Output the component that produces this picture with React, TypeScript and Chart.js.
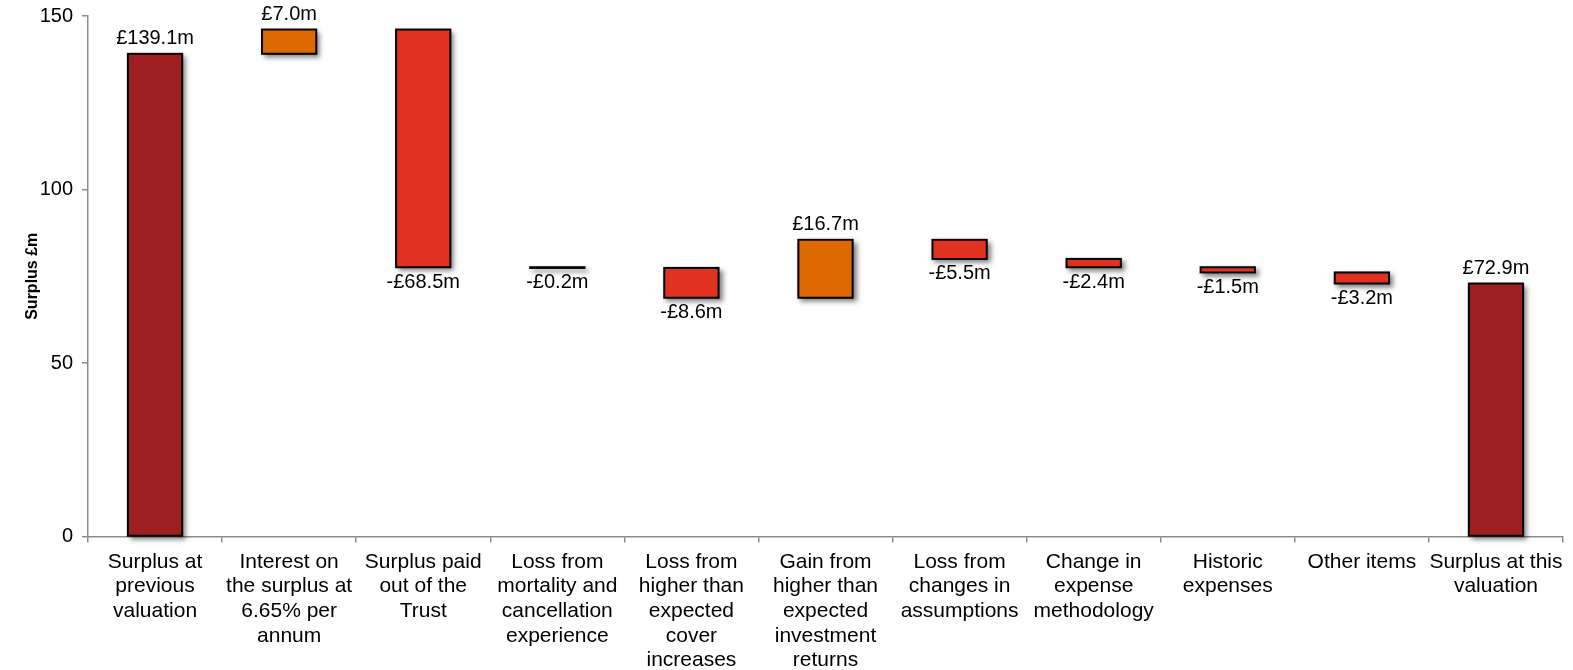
import React, { useEffect, useRef } from "react";
import { Chart, registerables } from "chart.js";

Chart.register(...registerables);

const categories: string[][] = [
  ["Surplus at", "previous", "valuation"],
  ["Interest on", "the surplus at", "6.65% per", "annum"],
  ["Surplus paid", "out of the", "Trust"],
  ["Loss from", "mortality and", "cancellation", "experience"],
  ["Loss from", "higher than", "expected", "cover", "increases"],
  ["Gain from", "higher than", "expected", "investment", "returns"],
  ["Loss from", "changes in", "assumptions"],
  ["Change in", "expense", "methodology"],
  ["Historic", "expenses"],
  ["Other items"],
  ["Surplus at this", "valuation"],
];

// Movement values in £m (first and last are totals)
const startSurplus = 139.1;
const movements: number[] = [7.0, -68.5, -0.2, -8.6, 16.7, -5.5, -2.4, -1.5, -3.2];
const endSurplus = 72.9;

const yTicks: number[] = [0, 50, 100, 150];

const COLOR_TOTAL = "#9E1F22";
const COLOR_GAIN = "#DC6A00";
const COLOR_LOSS = "#E0321F";

function fmt(v: number): string {
  const s = "£" + Math.abs(v).toFixed(1) + "m";
  return v < 0 ? "-" + s : s;
}

export default function App() {
  const ref = useRef<HTMLCanvasElement | null>(null);

  useEffect(() => {
    if (!ref.current) return;

    const ranges: [number, number][] = [];
    const colors: string[] = [];
    const labels: string[] = [];
    const kinds: string[] = [];
    ranges.push([0, startSurplus]);
    colors.push(COLOR_TOTAL);
    labels.push(fmt(startSurplus));
    kinds.push("up");
    let run = startSurplus;
    movements.forEach((m) => {
      const next = run + m;
      ranges.push([Math.min(run, next), Math.max(run, next)]);
      colors.push(m >= 0 ? COLOR_GAIN : COLOR_LOSS);
      labels.push(fmt(m));
      kinds.push(m >= 0 ? "up" : "down");
      run = next;
    });
    ranges.push([0, endSurplus]);
    colors.push(COLOR_TOTAL);
    labels.push(fmt(endSurplus));
    kinds.push("up");

    const shadowPlugin = {
      id: "barShadow",
      beforeDatasetsDraw(chart: any) {
        const ctx = chart.ctx;
        const meta = chart.getDatasetMeta(0);
        ctx.save();
        ctx.shadowColor = "rgba(0,0,0,0.5)";
        ctx.shadowBlur = 5;
        ctx.shadowOffsetX = 3;
        ctx.shadowOffsetY = 3;
        ctx.fillStyle = "#000";
        meta.data.forEach((bar: any) => {
          const top = Math.min(bar.y, bar.base);
          const bottom = Math.max(bar.y, bar.base);
          const left = bar.x - bar.width / 2;
          ctx.fillRect(left - 1, top - 1, bar.width + 2, bottom - top + 2);
        });
        ctx.restore();
      },
      afterDatasetsDraw(chart: any) {
        const ctx = chart.ctx;
        const meta = chart.getDatasetMeta(0);
        ctx.save();
        ctx.font = "20px 'Liberation Sans', Arial, sans-serif";
        ctx.fillStyle = "#000";
        ctx.textAlign = "center";
        meta.data.forEach((bar: any, i: number) => {
          const top = Math.min(bar.y, bar.base);
          const bottom = Math.max(bar.y, bar.base);
          if (kinds[i] === "up") {
            ctx.textBaseline = "bottom";
            ctx.fillText(labels[i], bar.x, top - 5);
          } else {
            ctx.textBaseline = "top";
            ctx.fillText(labels[i], bar.x, bottom + 5);
          }
        });
        ctx.restore();
      },
    };

    const chart = new Chart(ref.current, {
      type: "bar",
      data: {
        labels: categories as any,
        datasets: [
          {
            data: ranges as any,
            backgroundColor: colors,
            borderColor: "#000",
            borderWidth: 1,
            borderSkipped: false,
            barPercentage: 0.405,
            categoryPercentage: 1,
          },
        ],
      },
      options: {
        animation: false,
        responsive: true,
        maintainAspectRatio: false,
        layout: { padding: { left: 0, right: 10, top: 16, bottom: 0 } },
        plugins: {
          legend: { display: false },
          tooltip: { enabled: false },
        },
        scales: {
          x: {
            offset: true,
            afterFit(scale: any) {
              scale.height = 133.5;
              scale.paddingLeft = 0;
              scale.paddingRight = 0;
            },
            grid: {
              offset: true,
              drawOnChartArea: false,
              drawTicks: true,
              tickLength: 6,
              color: "#8c8c8c",
              lineWidth: 1.5,
            },
            border: { color: "#8c8c8c", width: 1.5 },
            ticks: {
              autoSkip: false,
              maxRotation: 0,
              minRotation: 0,
              padding: 7,
              color: "#000",
              font: { family: "'Liberation Sans', Arial, sans-serif", size: 21, lineHeight: 1.175 },
            },
          },
          y: {
            min: 0,
            max: 150,
            afterBuildTicks(axis: any) {
              axis.ticks = yTicks.map((v) => ({ value: v }));
            },
            afterFit(scale: any) {
              scale.width = 88;
              scale.paddingTop = 0;
              scale.paddingBottom = 0;
            },
            grid: {
              drawOnChartArea: false,
              drawTicks: true,
              tickLength: 6,
              color: "#8c8c8c",
              lineWidth: 1.5,
            },
            border: { color: "#8c8c8c", width: 1.5 },
            ticks: {
              padding: 9,
              color: "#000",
              font: { family: "'Liberation Sans', Arial, sans-serif", size: 20 },
            },
            title: {
              display: true,
              text: "Surplus £m",
              color: "#000",
              padding: { top: 23, bottom: 0 },
              font: { family: "'Liberation Sans', Arial, sans-serif", size: 16, weight: "bold" },
            },
          },
        },
      },
      plugins: [shadowPlugin],
    });

    return () => chart.destroy();
  }, []);

  return (
    <div style={{ position: "absolute", left: 0, top: 0, width: 1573, height: 670, background: "#fff" }}>
      <canvas ref={ref} />
    </div>
  );
}
